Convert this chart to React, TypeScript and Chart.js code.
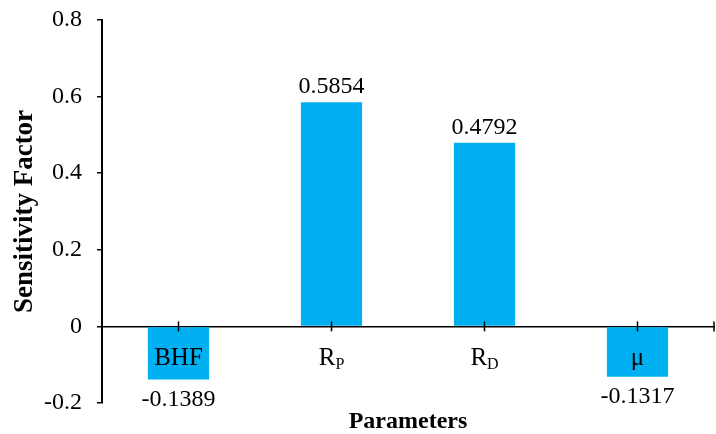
import React, { useEffect, useRef } from "react";
import { Chart, registerables } from "chart.js";

Chart.register(...registerables);

// ---- data ----
const categoryMain: string[] = ["BHF", "R", "R", "μ"];
const categorySub: string[] = ["", "P", "D", ""];
const sensitivity: number[] = [-0.1389, 0.5854, 0.4792, -0.1317];
const yMin = -0.2;
const yMax = 0.8;
const yStep = 0.2;
const yTitle = "Sensitivity Factor";
const xTitle = "Parameters";

const FONT = "'Liberation Serif', 'Times New Roman', serif";
const BAR_COLOR = "#00B0F0";

const overlayPlugin = {
  id: "overlay",
  afterDatasetsDraw(chart: any) {
    const ctx: CanvasRenderingContext2D = chart.ctx;
    const xs = chart.scales.x;
    const ys = chart.scales.y;
    const y0 = ys.getPixelForValue(0);
    ctx.save();
    // crossing tick marks on the zero axis
    ctx.strokeStyle = "#000";
    ctx.lineWidth = 1.5;
    const tickXs: number[] = categoryMain.map((_, i) => xs.getPixelForValue(i));
    tickXs.push(xs.right);
    tickXs.forEach((x) => {
      ctx.beginPath();
      ctx.moveTo(x, y0 - 5);
      ctx.lineTo(x, y0 + 5);
      ctx.stroke();
    });

    // category labels with subscripts
    ctx.fillStyle = "#000";
    ctx.textBaseline = "alphabetic";
    ctx.textAlign = "left";
    const mainFont = `25px ${FONT}`;
    const subFont = `16px ${FONT}`;
    categoryMain.forEach((m, i) => {
      const s = categorySub[i];
      ctx.font = mainFont;
      const wm = ctx.measureText(m).width;
      ctx.font = subFont;
      const ws = s ? ctx.measureText(s).width : 0;
      const cx = xs.getPixelForValue(i);
      const start = cx - (wm + ws) / 2;
      const base = y0 + 39;
      ctx.font = mainFont;
      ctx.fillText(m, start, base);
      if (s) {
        ctx.font = subFont;
        ctx.fillText(s, start + wm, base + 4);
      }
    });

    // data labels
    const meta = chart.getDatasetMeta(0);
    ctx.font = `24px ${FONT}`;
    ctx.textAlign = "center";
    meta.data.forEach((bar: any, i: number) => {
      const v = sensitivity[i];
      const txt = v.toFixed(4);
      if (v >= 0) {
        ctx.fillText(txt, bar.x, bar.y - 9);
      } else {
        ctx.fillText(txt, bar.x, bar.y + 26);
      }
    });

    // x axis title
    ctx.font = `bold 24px ${FONT}`;
    ctx.textAlign = "center";
    ctx.fillText(xTitle, (chart.chartArea.left + chart.chartArea.right) / 2, 428);
    ctx.restore();
  },
};

export default function App() {
  const ref = useRef<HTMLCanvasElement | null>(null);
  useEffect(() => {
    if (!ref.current) return;
    const chart = new Chart(ref.current, {
      type: "bar",
      data: {
        labels: categoryMain.map((m, i) => m + categorySub[i]),
        datasets: [
          {
            data: sensitivity,
            backgroundColor: BAR_COLOR,
            barPercentage: 0.4,
            categoryPercentage: 1,
          },
        ],
      },
      options: {
        responsive: false,
        animation: false,
        layout: { padding: { top: 20, right: 2, bottom: 31, left: 0 } },
        plugins: {
          legend: { display: false },
          tooltip: { enabled: false },
          title: { display: false },
        },
        scales: {
          x: {
            type: "category",
            position: { y: 0 } as any,
            grid: { drawOnChartArea: false, drawTicks: false },
            ticks: { display: false },
            border: { display: true, color: "#000", width: 1.5 },
            afterFit: (scale: any) => {
              scale.height = 0;
              scale.paddingTop = 0;
              scale.paddingBottom = 0;
              scale.paddingLeft = 0;
              scale.paddingRight = 0;
            },
          },
          y: {
            min: yMin,
            max: yMax,
            afterFit: (scale: any) => {
              scale.width = 102;
              scale.paddingTop = 0;
              scale.paddingBottom = 0;
            },
            ticks: {
              stepSize: yStep,
              color: "#000",
              padding: 15,
              font: { family: FONT, size: 24 },
              callback: (v: any) => String(Number(Number(v).toFixed(1))),
            },
            grid: {
              drawOnChartArea: false,
              drawTicks: true,
              tickLength: 5,
              color: "#000",
              lineWidth: 1.5,
            },
            border: { display: true, color: "#000", width: 2 },
            title: {
              display: true,
              text: yTitle,
              color: "#000",
              font: { family: FONT, size: 27, weight: "bold" },
              padding: { top: 9, bottom: 0 },
            },
          },
        },
      },
      plugins: [overlayPlugin],
    });
    return () => chart.destroy();
  }, []);
  return (
    <div style={{ position: "fixed", left: 0, top: 0, width: 716, height: 434, background: "#fff" }}>
      <canvas ref={ref} width={716} height={434} style={{ display: "block" }} />
    </div>
  );
}
